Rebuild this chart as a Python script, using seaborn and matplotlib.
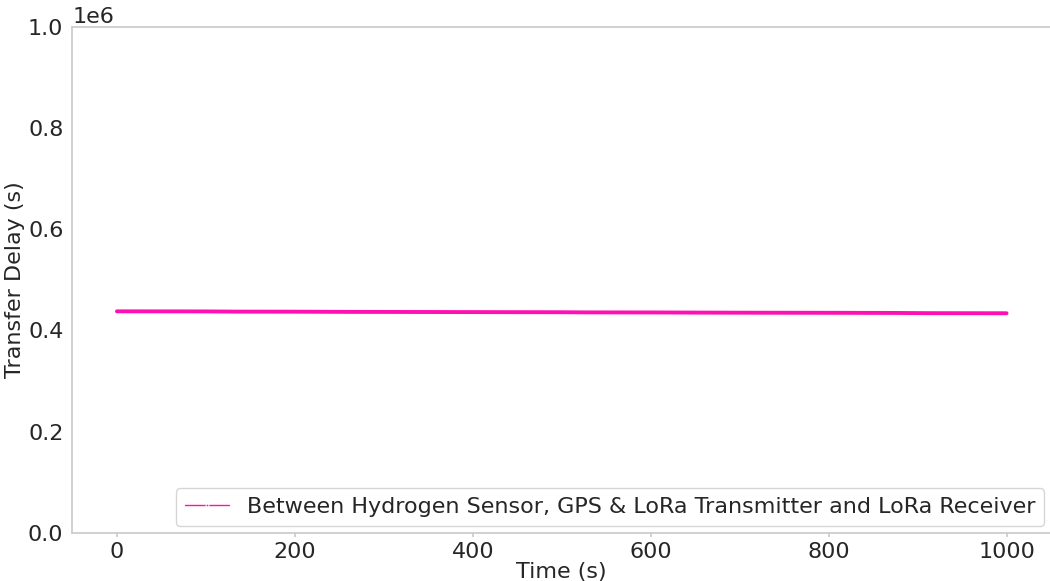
import matplotlib
matplotlib.use('Agg')
import matplotlib.pyplot as plt
import seaborn as sns
import pandas as pd

# transfer delay (values in seconds, 1e6 scale)
time_s = [0, 50, 100, 135, 200, 260, 300, 400, 500, 530, 600, 673, 700, 800, 875, 910, 1000]
delay = [437600, 437500, 437400, 437000, 436900, 436500, 436400, 436100, 435800, 435500,
         435400, 435000, 434900, 434700, 434400, 434000, 433800]
label = 'Between Hydrogen Sensor, GPS & LoRa Transmitter and LoRa Receiver'

df = pd.DataFrame({'Time (s)': time_s, 'Transfer Delay (s)': delay})

sns.set_theme(style='white', rc={'axes.edgecolor': '.8'})
plt.rcParams['font.family'] = ['DejaVu Sans']

fig, ax = plt.subplots(figsize=(10.5, 5.81), dpi=100)
sns.lineplot(data=df, x='Time (s)', y='Transfer Delay (s)', color='#ff10b4',
             linewidth=2.8, label=label, ax=ax)

ax.set_ylim(0, 1e6)
ax.set_xticks([0, 200, 400, 600, 800, 1000])
ax.set_yticks([0, 2e5, 4e5, 6e5, 8e5, 1e6])
ax.tick_params(axis='both', labelsize=16, color='.8', length=3, bottom=True, left=False)
ax.yaxis.get_offset_text().set_fontsize(16)
ax.set_xlabel('Time (s)', fontsize=16, labelpad=0)
ax.set_ylabel('Transfer Delay (s)', fontsize=16, labelpad=2)

leg = ax.legend(loc='lower right', fontsize=16, frameon=True, borderaxespad=0.3)
for h in leg.get_lines():
    h.set_linewidth(1)
    h.set_marker('.')
    h.set_markersize(4)

fig.subplots_adjust(left=0.069, right=1.001, top=0.954, bottom=0.083)
fig.savefig('out.png')
